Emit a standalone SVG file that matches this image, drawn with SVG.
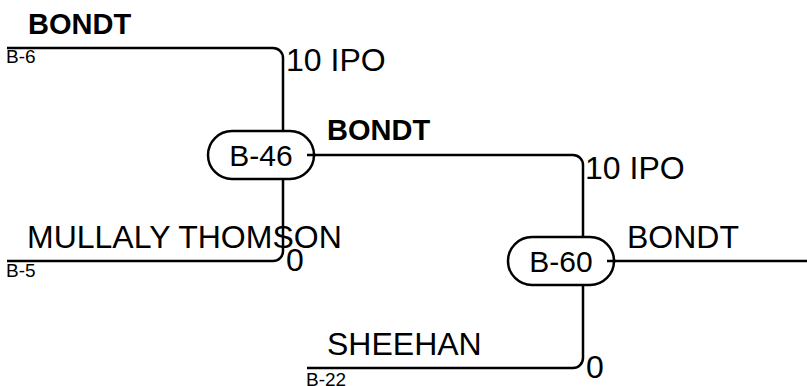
<svg xmlns="http://www.w3.org/2000/svg" width="807" height="386" viewBox="0 0 807 386">
<style>
.ln{fill:none;stroke:#000;stroke-width:2.5}
.nd{fill:#fff;stroke:#000;stroke-width:2.5}
text{font-family:"Liberation Sans",Arial,sans-serif;fill:#000}
.big{font-size:32px}
.bold{font-size:29px;font-weight:bold}
.sm{font-size:19px}
.nt{font-size:30px;text-anchor:middle}
</style>
<rect width="807" height="386" fill="#fff"/>
<g id="connectors">
<path class="ln" d="M7,48 H273 A10,10 0 0 1 283,58 V131"/>
<path class="ln" d="M283,179 V251 A10,10 0 0 1 273,261 H7"/>
<path class="ln" d="M307,155 H573 A10,10 0 0 1 583,165 V237"/>
<path class="ln" d="M583,285 V358 A10,10 0 0 1 573,368 H307"/>
<path class="ln" d="M607,261 H807"/>
</g>
<g id="labels">
<text class="bold" x="28" y="34">BONDT</text>
<text class="sm" x="6" y="63">B-6</text>
<text class="big" x="286" y="71">10 IPO</text>
<text class="bold" x="327" y="140">BONDT</text>
<text class="big" x="585" y="179">10 IPO</text>
<text class="big" x="27" y="248">MULLALY THOMSON</text>
<text class="big" x="286" y="271">0</text>
<text class="sm" x="6" y="277">B-5</text>
<text class="big" x="627" y="248">BONDT</text>
<text class="big" x="327" y="355">SHEEHAN</text>
<text class="big" x="586" y="378">0</text>
<text class="sm" x="306" y="386">B-22</text>
</g>
<g id="node-B-46">
<rect class="nd" x="208" y="131" width="106" height="48" rx="24"/>
<path class="ln" d="M307,155 H316"/>
<text class="nt" x="261" y="166">B-46</text>
</g>
<g id="node-B-60">
<rect class="nd" x="508" y="237" width="106" height="48" rx="24"/>
<path class="ln" d="M607,261 H616"/>
<text class="nt" x="561" y="272">B-60</text>
</g>
</svg>
